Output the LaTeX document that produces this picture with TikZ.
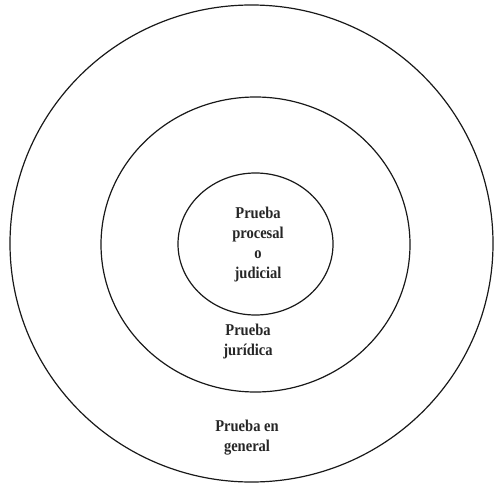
\documentclass[tikz,border=0pt]{standalone}
\usepackage{fontspec}
\setmainfont[FakeStretch=0.88]{Liberation Serif}
\begin{document}
\begin{tikzpicture}[x=1pt,y=-1pt,
  ring/.style={draw=black!90,line width=1.2pt},
  lbl/.style={align=center,font=\fontsize{16.5}{20}\selectfont\bfseries,text=black!85,inner sep=0pt}]
\useasboundingbox (0,0) rectangle (494,484);
\draw[ring] (251.5,243.5) ellipse [x radius=241.5, y radius=238.5];
\draw[ring] (255.5,244.5) ellipse [x radius=154.5, y radius=147.5];
\draw[ring] (255.5,244) ellipse [x radius=77.5, y radius=71];
\node[lbl] (inner) at (258,245) {Prueba\\procesal\\o\\judicial};
\node[lbl] (mid) at (248,342) {Prueba\\jurídica};
\node[lbl] (outer) at (247,438) {Prueba en\\general};
\end{tikzpicture}
\end{document}
